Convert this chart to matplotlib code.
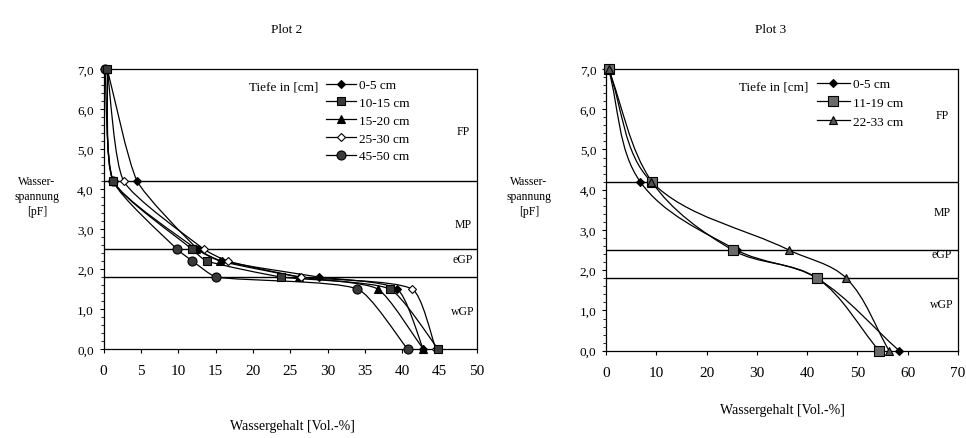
import numpy as np
import matplotlib
matplotlib.use("Agg")
import matplotlib.pyplot as plt
from matplotlib.path import Path
from matplotlib.patches import PathPatch
from matplotlib.lines import Line2D

# pF steps measured in each plot
pf_plot2 = [7.0, 4.2, 2.5, 2.2, 1.8, 1.5, 0.0]
pf_plot3 = [7.0, 4.2, 2.5, 1.8, 0.0]

# Wassergehalt [Vol.-%] per depth, Plot 2
wg2_0_5 = [0.5, 4.5, 12.6, 15.8, 28.8, 39.3, 42.8]
wg2_10_15 = [0.5, 1.3, 11.8, 13.8, 23.8, 38.3, 44.8]
wg2_15_20 = [0.5, 1.3, 12.4, 15.6, 26.2, 36.7, 42.8]
wg2_25_30 = [0.5, 2.7, 13.4, 16.6, 26.4, 41.3, 44.5]
wg2_45_50 = [0.2, 1.3, 9.8, 11.9, 15.1, 34.0, 40.7]
labels2 = ["0-5 cm", "10-15 cm", "15-20 cm", "25-30 cm", "45-50 cm"]

# Plot 3
wg3_0_5 = [0.5, 6.8, 26.0, 42.0, 58.3]
wg3_11_19 = [0.5, 9.1, 25.2, 42.0, 54.3]
wg3_22_33 = [0.5, 9.0, 36.4, 47.8, 56.3]
labels3 = ["0-5 cm", "11-19 cm", "22-33 cm"]

# zone borders and names
zone_lines = [4.2, 2.5, 1.8]
zone_names = ["FP", "MP", "eGP", "wGP"]
zone_y2 = [5.45, 3.13, 2.25, 0.96]
zone_y3 = [5.85, 3.45, 2.4, 1.16]

yticks = [0, 1, 2, 3, 4, 5, 6, 7]
ytick_labels = ["0,0", "1,0", "2,0", "3,0", "4,0", "5,0", "6,0", "7,0"]
xticks2 = list(range(0, 55, 5))
xticks3 = list(range(0, 80, 10))

plt.rcParams["font.family"] = ["Liberation Serif", "DejaVu Serif"]

W, H = 966, 439
fig = plt.figure(figsize=(W / 100, H / 100), dpi=100, facecolor="white")


def fx(px):
    return px / W


def fy(py):
    return 1 - py / H


def smooth_path(ax, x, y, k):
    # smoothed line through the points, tangents worked out in screen space
    bb = ax.get_window_extent()
    x0, x1 = ax.get_xlim()
    sx = bb.width / (x1 - x0)
    sy = bb.height / 7.0
    pts = np.column_stack([np.asarray(x, float) * sx, np.asarray(y, float) * sy])
    n = len(pts)
    tang = []
    for i in range(n):
        d = pts[min(i + 1, n - 1)] - pts[max(i - 1, 0)]
        tang.append(d / np.hypot(*d))
    verts = [pts[0]]
    codes = [Path.MOVETO]
    for i in range(n - 1):
        L = np.hypot(*(pts[i + 1] - pts[i]))
        verts += [pts[i] + tang[i] * L * k, pts[i + 1] - tang[i + 1] * L * k, pts[i + 1]]
        codes += [Path.CURVE4] * 3
    verts = np.array(verts) / [sx, sy]
    return Path(verts, codes)


def setup_axes(ax, xmax, xticks, zone_y, zone_x):
    ax.set_xlim(0, xmax)
    ax.set_ylim(0, 7)
    ax.set_xticks(xticks)
    ax.set_xticklabels([str(t) for t in xticks], fontsize=11)
    ax.set_yticks(yticks)
    ax.set_yticklabels(ytick_labels, fontsize=9.5)
    ax.set_yticks(np.arange(0, 7.01, 0.2), minor=True)
    ax.tick_params(axis="both", which="major", direction="out", length=3, width=0.8, pad=4)
    ax.tick_params(axis="y", which="minor", direction="out", length=2, width=0.6)
    ax.tick_params(axis="x", pad=8)
    for s in ax.spines.values():
        s.set_linewidth(0.9)
    for yl in zone_lines:
        ax.axhline(yl, color="black", lw=1.0, zorder=1)
    for name, yz in zip(zone_names, zone_y):
        ax.text(zone_x, yz, name, ha="center", va="center", fontsize=8.5)


def draw_series(ax, x, y, k, marker, face, ms, z=3):
    ax.add_patch(PathPatch(smooth_path(ax, x, y, k), fill=False, edgecolor="black",
                           lw=0.9, zorder=2))
    ax.plot(x, y, linestyle="none", marker=marker, markerfacecolor=face,
            markeredgecolor="black", markersize=ms, markeredgewidth=0.8, zorder=z,
            clip_on=False)
    return Line2D([], [], color="black", lw=0.9, marker=marker, markerfacecolor=face,
                  markeredgecolor="black", markersize=ms, markeredgewidth=0.8)


# ---- Plot 2
ax1 = fig.add_axes([fx(103.5), fy(350), fx(477) - fx(103.5), fy(70) - fy(350)])
setup_axes(ax1, 50, xticks2, zone_y2, 48.1)
styles2 = [("D", "black", 4.5, 3), ("s", "#3a3a3a", 5.5, 4), ("^", "black", 5.5, 3),
           ("D", "white", 4.5, 3), ("o", "#3a3a3a", 6.5, 3)]
handles2 = []
for data, st in zip([wg2_0_5, wg2_10_15, wg2_15_20, wg2_25_30, wg2_45_50], styles2):
    handles2.append(draw_series(ax1, data, pf_plot2, 0.18, *st))
fig.legend(handles2, labels2, loc="upper left", bbox_to_anchor=(fx(326), fy(80)),
           frameon=False, fontsize=9.5, handlelength=2.3, handletextpad=0.2,
           labelspacing=0.42, borderpad=0, borderaxespad=0)
fig.text(fx(318), fy(88), "Tiefe in [cm]", ha="right", va="center", fontsize=9.5)

# ---- Plot 3
ax2 = fig.add_axes([fx(606), fy(351.7), fx(958) - fx(606), fy(70) - fy(351.7)])
setup_axes(ax2, 70, xticks3, zone_y3, 66.8)
styles3 = [("D", "black", 4.5, 3), ("s", "#6a6a6a", 7, 3), ("^", "#555555", 6, 3)]
handles3 = []
for data, st in zip([wg3_0_5, wg3_11_19, wg3_22_33], styles3):
    handles3.append(draw_series(ax2, data, pf_plot3, 1 / 3, *st))
fig.legend(handles3, labels3, loc="upper left", bbox_to_anchor=(fx(817), fy(79)),
           frameon=False, fontsize=9.5, handlelength=2.5, handletextpad=0.2,
           labelspacing=0.5, borderpad=0, borderaxespad=0)
fig.text(fx(808), fy(87), "Tiefe in [cm]", ha="right", va="center", fontsize=9.5)

# titles and axis labels
fig.text(fx(287), fy(30), "Plot 2", ha="center", va="center", fontsize=9.5)
fig.text(fx(771), fy(30), "Plot 3", ha="center", va="center", fontsize=9.5)
fig.text(fx(292), fy(427), "Wassergehalt [Vol.-%]", ha="center", va="center", fontsize=10)
fig.text(fx(782), fy(411), "Wassergehalt [Vol.-%]", ha="center", va="center", fontsize=10)
for cx in (37, 529):
    fig.text(fx(cx), fy(197), "Wasser-\nspannung\n[pF]", ha="center", va="center",
             fontsize=8.5, linespacing=1.35)

fig.savefig("out.png", dpi=100)
